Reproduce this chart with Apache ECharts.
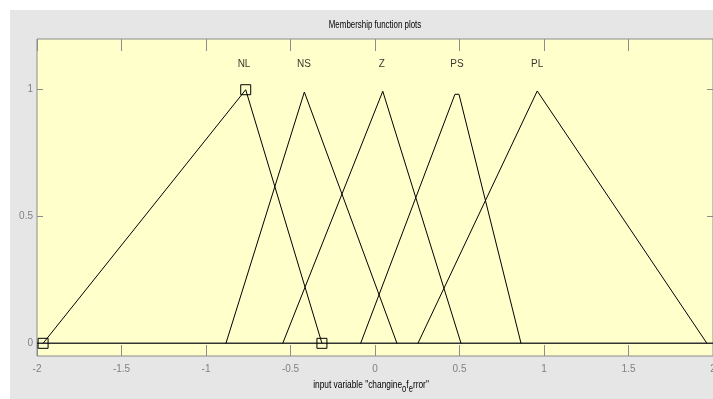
<!DOCTYPE html>
<html>
<head>
<meta charset="utf-8">
<script src="https://cdn.jsdelivr.net/npm/echarts@6/dist/echarts.min.js"></script>
<style>
  html, body { margin: 0; padding: 0; background: #ffffff; }
  #panel { position: absolute; left: 10px; top: 10px; width: 703px; height: 389px; background: #e6e6e6; }
  #chart { position: absolute; left: 0; top: 0; width: 713px; height: 399px; }
</style>
</head>
<body>
<div id="panel"></div>
<div id="chart"></div>
<script>
// membership functions of "changine_of_error"
const mfNames = ['NL', 'NS', 'Z', 'PS', 'PL'];
const nlX = [-1.964, -0.765, -0.314];
const nlY = [0, 1, 0];
const nsX = [-0.882, -0.418, 0.130];
const nsY = [0, 0.991, 0];
const zX = [-0.546, 0.046, 0.509];
const zY = [0, 0.994, 0];
const psX = [-0.085, 0.473, 0.497, 0.864];
const psY = [0, 0.982, 0.982, 0];
const plX = [0.254, 0.960, 1.964];
const plY = [0, 0.995, 0];
const labelX = [-0.775, -0.42, 0.04, 0.485, 0.96];
const labelLevel = 1.1;
const baseX = [-2, 2];
const baseY = [0, 0];
const yTicks = [0, 0.5, 1];

const FONT = "'Liberation Sans', Arial, sans-serif";
const zip = (xs, ys) => xs.map((x, i) => [x, ys[i]]);

const chart = echarts.init(document.getElementById('chart'));

function mfSeries(xs, ys, selected) {
  return {
    type: 'line',
    data: zip(xs, ys),
    silent: true,
    lineStyle: { color: '#000', width: 1 },
    symbol: selected ? 'rect' : 'none',
    symbolSize: 10,
    itemStyle: { color: 'rgba(0,0,0,0)', borderColor: '#000', borderWidth: 1 },
    z: 3,
  };
}

const tickStyle = { color: '#8c8c8c' };

chart.setOption({
  animation: false,
  backgroundColor: 'transparent',
  // title and axis caption drawn narrow like the original figure font
  graphic: [
    {
      type: 'text',
      x: 375, y: 25, scaleX: 0.72,
      style: { text: 'Membership function plots', align: 'center', verticalAlign: 'middle', fill: '#000', font: '11px ' + FONT },
    },
    {
      type: 'text',
      x: 371, y: 385, scaleX: 0.76,
      style: {
        text: '{a|input variable "changine}{s|o}{a|f}{s|e}{a|rror"}',
        align: 'center', verticalAlign: 'middle',
        rich: {
          a: { fontSize: 11, fill: '#000', fontFamily: FONT },
          s: { fontSize: 10, fill: '#000', fontFamily: FONT, padding: [9, 0, 0, 0] },
        },
      },
    },
  ],
  grid: {
    left: 37, top: 39, right: 0, bottom: 43,
    outerBoundsMode: 'none',
    containLabel: false,
    show: true,
    backgroundColor: '#ffffcc',
    borderColor: '#8c8c8c',
    borderWidth: 1,
  },
  xAxis: [
    {
      type: 'value',
      min: -2, max: 2, interval: 0.5,
      position: 'bottom',
      axisLine: { show: false, onZero: false },
      axisTick: { show: true, inside: true, length: 11, lineStyle: tickStyle },
      axisLabel: { color: '#808080', fontSize: 10, margin: 8, fontFamily: FONT, showMinLabel: true, showMaxLabel: true },
      splitLine: { show: false },
    },
    {
      type: 'value',
      min: -2, max: 2, interval: 0.5,
      position: 'top',
      axisLine: { show: false, onZero: false },
      axisTick: { show: true, inside: true, length: 12, lineStyle: tickStyle },
      axisLabel: { show: false },
      splitLine: { show: false },
    },
  ],
  yAxis: [
    {
      type: 'value',
      min: -0.05, max: 1.2,
      position: 'left',
      axisLine: { show: false, onZero: false },
      axisTick: { show: true, inside: true, length: 6, customValues: yTicks, lineStyle: tickStyle },
      axisLabel: { color: '#808080', fontSize: 10, margin: 4, fontFamily: FONT, customValues: yTicks },
      splitLine: { show: false },
    },
    {
      type: 'value',
      min: -0.05, max: 1.2,
      position: 'right',
      axisLine: { show: false, onZero: false },
      axisTick: { show: true, inside: true, length: 6, customValues: yTicks, lineStyle: tickStyle },
      axisLabel: { show: false, customValues: yTicks },
      splitLine: { show: false },
    },
  ],
  series: [
    {
      type: 'line',
      data: zip(baseX, baseY),
      silent: true,
      symbol: 'none',
      lineStyle: { color: '#333', width: 1.5 },
      z: 2,
    },
    mfSeries(nlX, nlY, true),
    mfSeries(nsX, nsY, false),
    mfSeries(zX, zY, false),
    mfSeries(psX, psY, false),
    mfSeries(plX, plY, false),
    {
      type: 'scatter',
      silent: true,
      symbolSize: 0,
      data: mfNames.map((n, i) => ({ name: n, value: [labelX[i], labelLevel] })),
      label: {
        show: true,
        position: 'inside',
        formatter: (p) => p.name,
        color: '#000',
        fontSize: 10,
        fontFamily: FONT,
      },
      z: 4,
    },
  ],
});
</script>
</body>
</html>
